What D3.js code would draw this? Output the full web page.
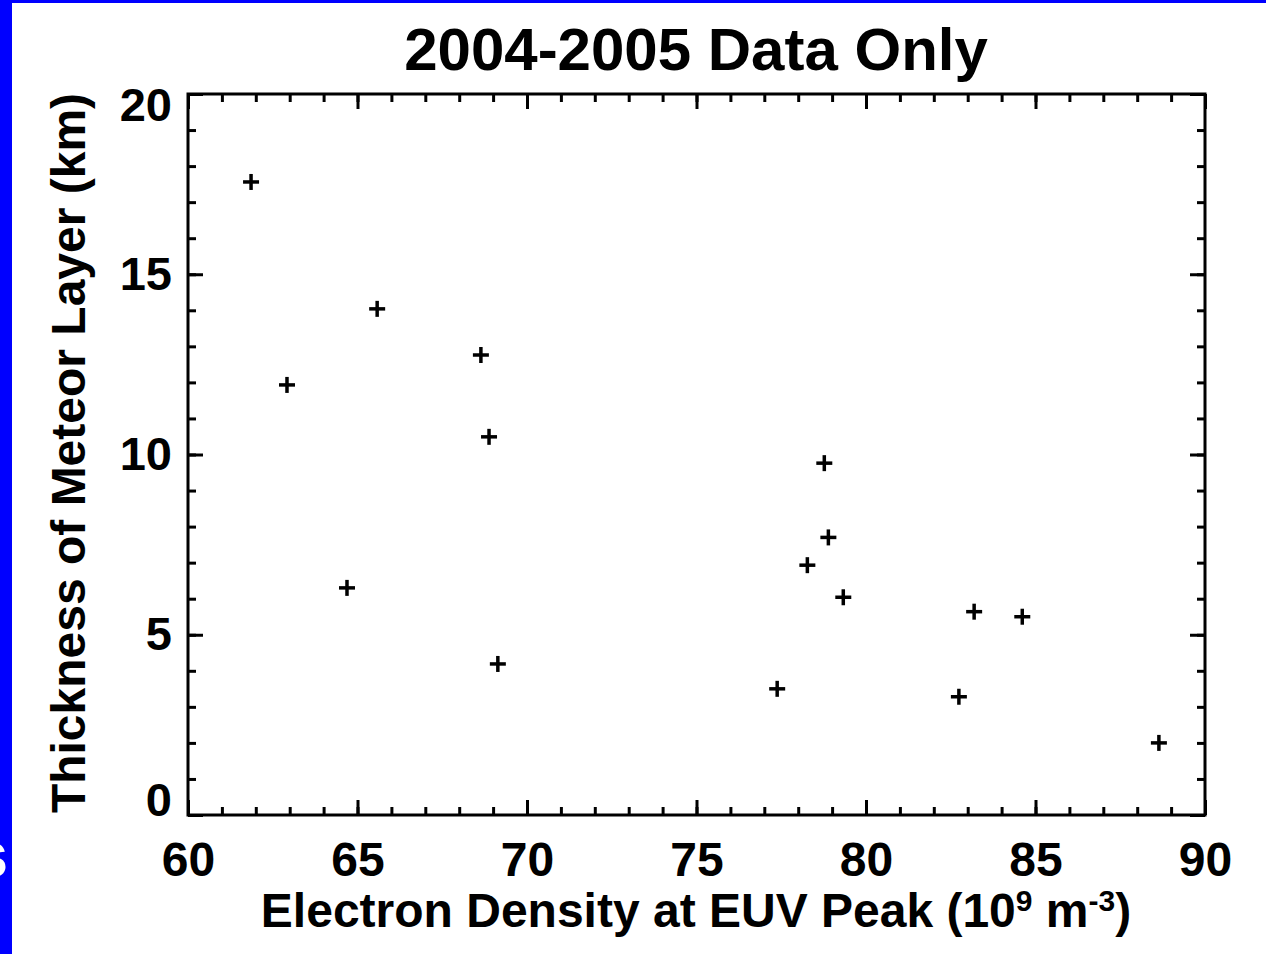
<!DOCTYPE html>
<html>
<head>
<meta charset="utf-8">
<script src="https://cdn.jsdelivr.net/npm/d3@7"></script>
<style>
  body { margin: 0; background: #fff; }
  text { font-family: "Liberation Sans", Arial, Helvetica, sans-serif; font-weight: bold; }
</style>
</head>
<body>
<div id="chart"></div>
<script>
var density   = [61.86, 62.92, 65.58, 64.69, 68.64, 68.88, 69.14, 77.38, 78.77, 78.89, 78.27, 79.33, 83.19, 84.61, 82.74, 88.64]
var thickness = [17.56, 11.93, 14.04, 6.30, 12.76, 10.49, 4.19, 3.50, 9.76, 7.70, 6.93, 6.04, 5.64, 5.50, 3.28, 2.00]
var xTicks = [60, 65, 70, 75, 80, 85, 90]
var yTicks = [0, 5, 10, 15, 20]

var data = density.map(function(d, i){ return {x: d, y: thickness[i]} })

var W = 1266, H = 954
var m = {left: 188, right: 61, top: 94, bottom: 139}
var w = W - m.left - m.right, h = H - m.top - m.bottom

var svg = d3.select('#chart').append('svg').attr('width', W).attr('height', H)

// slide background bits
svg.append('rect').attr('x', 0).attr('y', 0).attr('width', W).attr('height', 3).attr('fill', '#0000ff')
svg.append('rect').attr('x', 0).attr('y', 0).attr('width', 12).attr('height', H).attr('fill', '#0000ff')
svg.append('text').attr('x', 8).attr('y', 877).attr('text-anchor', 'end')
  .attr('fill', '#fff').style('font-size', '64px').text('s')

var g = svg.append('g').attr('transform', 'translate(' + m.left + ',' + m.top + ')')

var x = d3.scaleLinear().domain([60, 90]).range([0, w])
var y = d3.scaleLinear().domain([0, 20]).range([h, 0])

var minorX = d3.range(60, 91, 1), minorY = d3.range(0, 21, 1)

function style(sel){
  sel.select('.domain').remove()
  sel.selectAll('line').attr('stroke', '#000').attr('stroke-width', 3)
  sel.selectAll('text').attr('fill', '#000').style('font-size', '48px')
}

// minor ticks on all four sides
g.append('g').attr('transform', 'translate(0,' + h + ')')
  .call(d3.axisBottom(x).tickValues(minorX).tickSize(-8).tickFormat('')).call(style)
g.append('g')
  .call(d3.axisTop(x).tickValues(minorX).tickSize(-8).tickFormat('')).call(style)
g.append('g')
  .call(d3.axisLeft(y).tickValues(minorY).tickSize(-8).tickFormat('')).call(style)
g.append('g').attr('transform', 'translate(' + w + ',0)')
  .call(d3.axisRight(y).tickValues(minorY).tickSize(-8).tickFormat('')).call(style)

// major ticks
g.append('g').attr('transform', 'translate(0,' + h + ')')
  .call(d3.axisBottom(x).tickValues(xTicks).tickSize(-15).tickPadding(27).tickFormat(d3.format('d'))).call(style)
g.append('g')
  .call(d3.axisTop(x).tickValues(xTicks).tickSize(-15).tickFormat('')).call(style)
var yAx = g.append('g')
  .call(d3.axisLeft(y).tickValues(yTicks).tickSize(-15).tickPadding(16).tickFormat(d3.format('d'))).call(style)
yAx.selectAll('text').style('font-size', '47px')
  .attr('y', function(d){ return d == 20 ? 11 : d == 0 ? -15 : 0 })
g.append('g').attr('transform', 'translate(' + w + ',0)')
  .call(d3.axisRight(y).tickValues(yTicks).tickSize(-15).tickFormat('')).call(style)

// frame
g.append('rect').attr('width', w).attr('height', h)
  .attr('fill', 'none').attr('stroke', '#000').attr('stroke-width', 3)

// plus symbols
var arm = 8
var pts = g.selectAll('g.pt').data(data).enter().append('g').attr('class', 'pt')
  .attr('transform', function(d){ return 'translate(' + x(d.x) + ',' + y(d.y) + ')' })
pts.append('line').attr('x1', -arm).attr('x2', arm).attr('stroke', '#000').attr('stroke-width', 3.5)
pts.append('line').attr('y1', -arm).attr('y2', arm).attr('stroke', '#000').attr('stroke-width', 3.5)

// title
svg.append('text').attr('x', 696).attr('y', 70).attr('text-anchor', 'middle')
  .style('font-size', '60px').text('2004-2005 Data Only')

// x label
var xl = svg.append('text').attr('x', 696).attr('y', 927).attr('text-anchor', 'middle').style('font-size', '48px')
xl.append('tspan').text('Electron Density at EUV Peak (10')
xl.append('tspan').attr('dy', -16).style('font-size', '30px').text('9')
xl.append('tspan').attr('dy', 16).text(' m')
xl.append('tspan').attr('dy', -16).style('font-size', '30px').text('-3')
xl.append('tspan').attr('dy', 16).text(')')

// y label
svg.append('text').attr('transform', 'translate(85,453) rotate(-90)').attr('text-anchor', 'middle')
  .style('font-size', '48px').text('Thickness of Meteor Layer (km)')
</script>
</body>
</html>
